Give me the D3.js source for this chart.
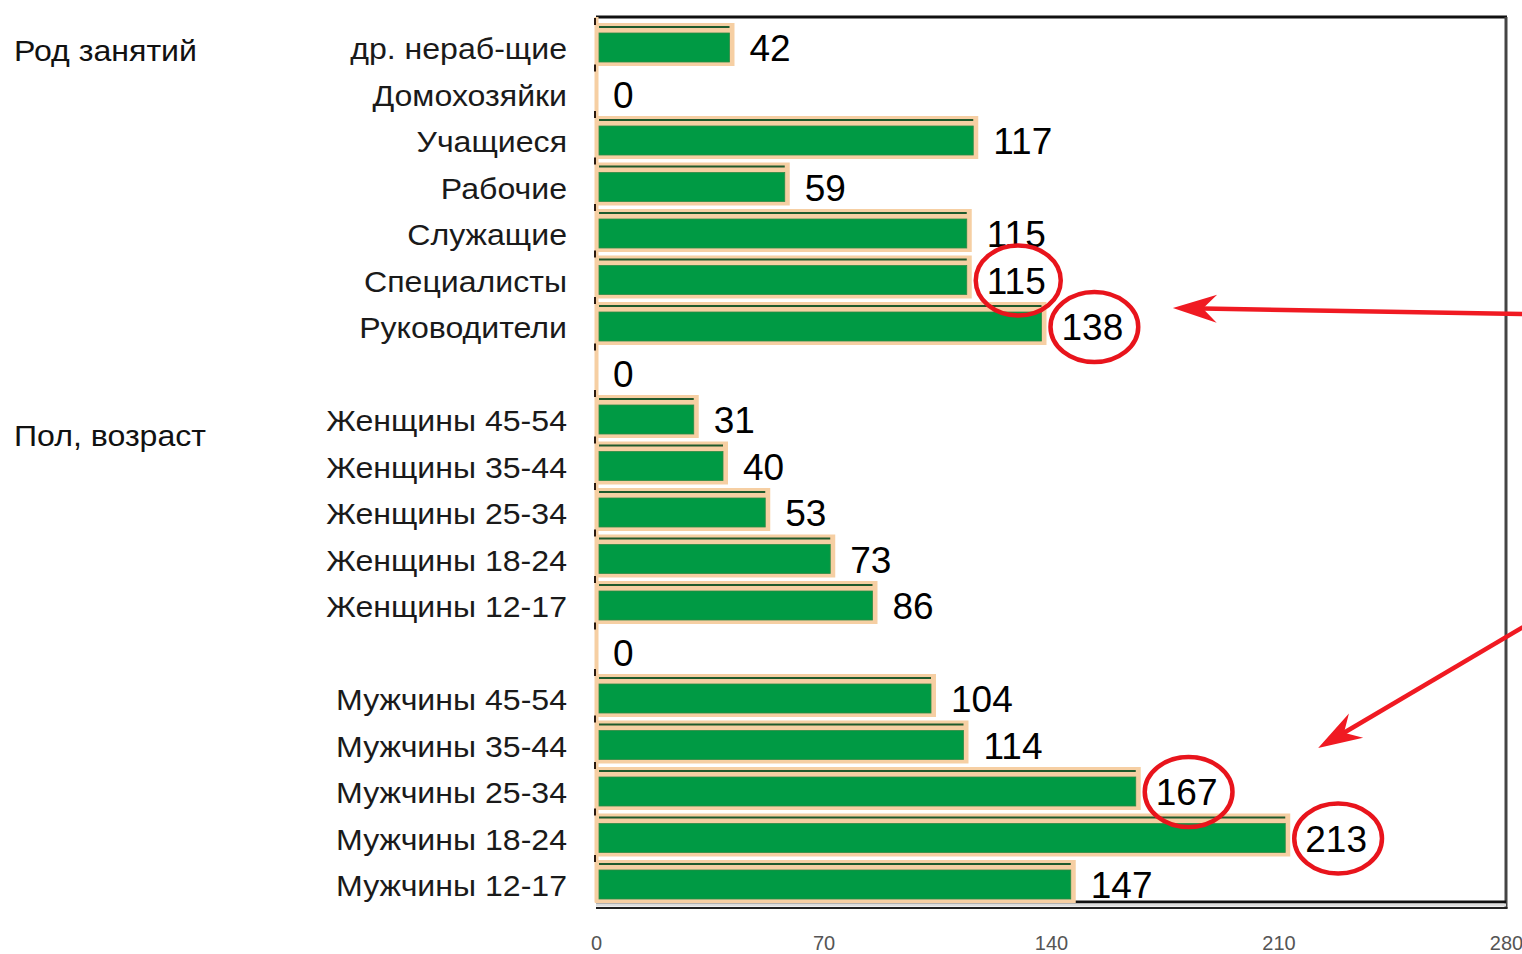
<!DOCTYPE html>
<html>
<head>
<meta charset="utf-8">
<script src="https://cdn.jsdelivr.net/npm/d3@7"></script>
<style>
    body { margin: 0; background: #fff; }
    svg { display: block; font-family: "Liberation Sans", Arial, sans-serif; }
</style>
</head>
<body>
<div id="chart"></div>
<script>
// Categories from top to bottom (empty names are spacer rows with value 0)
const categories = [
    "др. нераб-щие", "Домохозяйки", "Учащиеся", "Рабочие", "Служащие", "Специалисты", "Руководители",
    "", "Женщины 45-54", "Женщины 35-44", "Женщины 25-34", "Женщины 18-24", "Женщины 12-17",
    " ", "Мужчины 45-54", "Мужчины 35-44", "Мужчины 25-34", "Мужчины 18-24", "Мужчины 12-17"
];
const values = [42, 0, 117, 59, 115, 115, 138, 0, 31, 40, 53, 73, 86, 0, 104, 114, 167, 213, 147];
const xTicks = [0, 70, 140, 210, 280];

// Group titles on the far left, placed at a fractional row index
const groupTitles = ["Род занятий", "Пол, возраст"];
const groupRows = [0.71, 8.99];

// Values that are circled in red
const circled = ["Специалисты", "Руководители", "Мужчины 25-34", "Мужчины 18-24"];

// Red arrows in data space: [value, row index] -> [value, row index]
const arrowFrom = [[285.2, 6.39], [285.2, 13.12]];
const arrowTo = [[177.5, 6.26], [222.2, 15.72]];

const width = 1522, height = 954;
const plot = { left: 596, right: 1506, top: 17, bottom: 900.5 };

// Labels in the source are slightly wider than the font
const labelStretch = 1.07;

const svg = d3.select("#chart").append("svg")
    .attr("width", width)
    .attr("height", height);

svg.append("rect").attr("width", width).attr("height", height).attr("fill", "#fff");

const x = d3.scaleLinear().domain([0, 280]).range([plot.left, plot.right]);
const y = d3.scaleBand().domain(categories).range([plot.top, plot.bottom]).padding(0);
const rowY = d3.scaleLinear().domain([0, categories.length]).range([plot.top, plot.bottom]);

const data = categories.map((c, i) => ({ name: c, value: values[i] }));

// Frame: top, right and a double bottom line
const frame = svg.append("g").attr("class", "frame");
frame.append("line")
    .attr("x1", plot.left).attr("x2", plot.right + 1)
    .attr("y1", plot.top).attr("y2", plot.top)
    .attr("stroke", "#111").attr("stroke-width", 3);
frame.append("line")
    .attr("x1", plot.right).attr("x2", plot.right)
    .attr("y1", plot.top).attr("y2", plot.bottom + 8)
    .attr("stroke", "#444").attr("stroke-width", 3);
frame.append("line")
    .attr("x1", plot.left).attr("x2", plot.right)
    .attr("y1", plot.bottom + 1.5).attr("y2", plot.bottom + 1.5)
    .attr("stroke", "#111").attr("stroke-width", 3);
frame.append("line")
    .attr("x1", plot.left).attr("x2", plot.right)
    .attr("y1", plot.bottom + 4.5).attr("y2", plot.bottom + 4.5)
    .attr("stroke", "#ddd").attr("stroke-width", 3);
frame.append("line")
    .attr("x1", plot.left).attr("x2", plot.right + 1.5)
    .attr("y1", plot.bottom + 7.5).attr("y2", plot.bottom + 7.5)
    .attr("stroke", "#222").attr("stroke-width", 2);

// Peach left axis line
frame.append("line")
    .attr("x1", x(0) + 0.5).attr("x2", x(0) + 0.5)
    .attr("y1", plot.top).attr("y2", plot.bottom + 2)
    .attr("stroke", "#f6cfa3").attr("stroke-width", 4);

// Bars
const bars = svg.append("g").attr("class", "bars")
    .selectAll("g")
    .data(data)
    .join("g");

bars.append("rect")
    .attr("x", x(0) - 1)
    .attr("y", d => y(d.name) + 6)
    .attr("width", d => x(d.value) + 2 - (x(0) - 1))
    .attr("height", 43)
    .attr("fill", "#f6cfa3");

bars.filter(d => d.value > 0).append("rect")
    .attr("x", x(0) + 3)
    .attr("y", d => y(d.name) + 9)
    .attr("width", d => Math.max(0, x(d.value) - 3 - (x(0) + 3)))
    .attr("height", 2)
    .attr("fill", "#1f5a2c");

bars.filter(d => d.value > 0).append("rect")
    .attr("x", x(0) + 3)
    .attr("y", d => y(d.name) + 16)
    .attr("width", d => Math.max(0, x(d.value) - 3 - (x(0) + 3)))
    .attr("height", 29)
    .attr("fill", "#009a44")
    .attr("stroke", "#2f8a45")
    .attr("stroke-width", 0.8);

// Small dark ticks on the left axis at each band edge
svg.append("g").attr("class", "ticks")
    .selectAll("line")
    .data(data)
    .join("line")
    .attr("x1", x(0) - 1).attr("x2", x(0) - 1)
    .attr("y1", d => y(d.name) + 1)
    .attr("y2", d => y(d.name) + 8)
    .attr("stroke", "#2a1a10").attr("stroke-width", 2);

// Category labels
svg.append("g").attr("class", "cat-labels")
    .selectAll("text")
    .data(data)
    .join("text")
    .attr("transform", d => `translate(567,${y(d.name) + 42}) scale(${labelStretch},1)`)
    .attr("text-anchor", "end")
    .attr("font-size", 30)
    .attr("fill", "#1a1a1a")
    .text(d => d.name.trim());

// Value labels
const valueLabels = svg.append("g").attr("class", "value-labels")
    .selectAll("text")
    .data(data)
    .join("text")
    .attr("x", d => x(d.value) + 17)
    .attr("y", d => y(d.name) + 44)
    .attr("font-size", 37)
    .attr("fill", "#000")
    .text(d => d.value);

// Group titles
svg.append("g").attr("class", "group-titles")
    .selectAll("text")
    .data(groupTitles)
    .join("text")
    .attr("transform", (d, i) => `translate(14,${rowY(groupRows[i]) + 11}) scale(${labelStretch},1)`)
    .attr("font-size", 30)
    .attr("fill", "#111")
    .text(d => d);

// X axis tick labels
const xAxis = d3.axisBottom(x).tickValues(xTicks).tickSize(0).tickPadding(0);
const xAxisGroup = svg.append("g")
    .attr("transform", "translate(0," + 936 + ")")
    .call(xAxis);
xAxisGroup.select(".domain").remove();
xAxisGroup.selectAll("text")
    .attr("font-size", 20)
    .attr("font-family", "Liberation Sans, Arial, sans-serif")
    .attr("fill", "#555");

// Red ellipses around selected values
const annot = svg.append("g").attr("class", "annotations");
valueLabels.filter(d => circled.includes(d.name)).each(function (d) {
    const b = this.getBBox();
    annot.append("ellipse")
        .attr("cx", b.x + b.width / 2 + 2)
        .attr("cy", y(d.name) + 31)
        .attr("rx", b.width / 2 + 13)
        .attr("ry", 35)
        .attr("fill", "none")
        .attr("stroke", "#e8141c")
        .attr("stroke-width", 4.5);
});

// Red arrows
arrowFrom.forEach((from, i) => {
    const x1 = x(from[0]), y1 = rowY(from[1]);
    const x2 = x(arrowTo[i][0]), y2 = rowY(arrowTo[i][1]);
    const ang = Math.atan2(y1 - y2, x1 - x2);
    const pt = (len, off) => [
        x2 + len * Math.cos(ang) - off * Math.sin(ang),
        y2 + len * Math.sin(ang) + off * Math.cos(ang)
    ];
    const notch = pt(30, 0);
    annot.append("line")
        .attr("x1", x1).attr("y1", y1)
        .attr("x2", notch[0]).attr("y2", notch[1])
        .attr("stroke", "#f01a22").attr("stroke-width", 4.5);
    annot.append("path")
        .attr("d", d3.line()([[x2, y2], pt(44, 14), notch, pt(44, -14)]) + "Z")
        .attr("fill", "#f01a22");
});
</script>
</body>
</html>
